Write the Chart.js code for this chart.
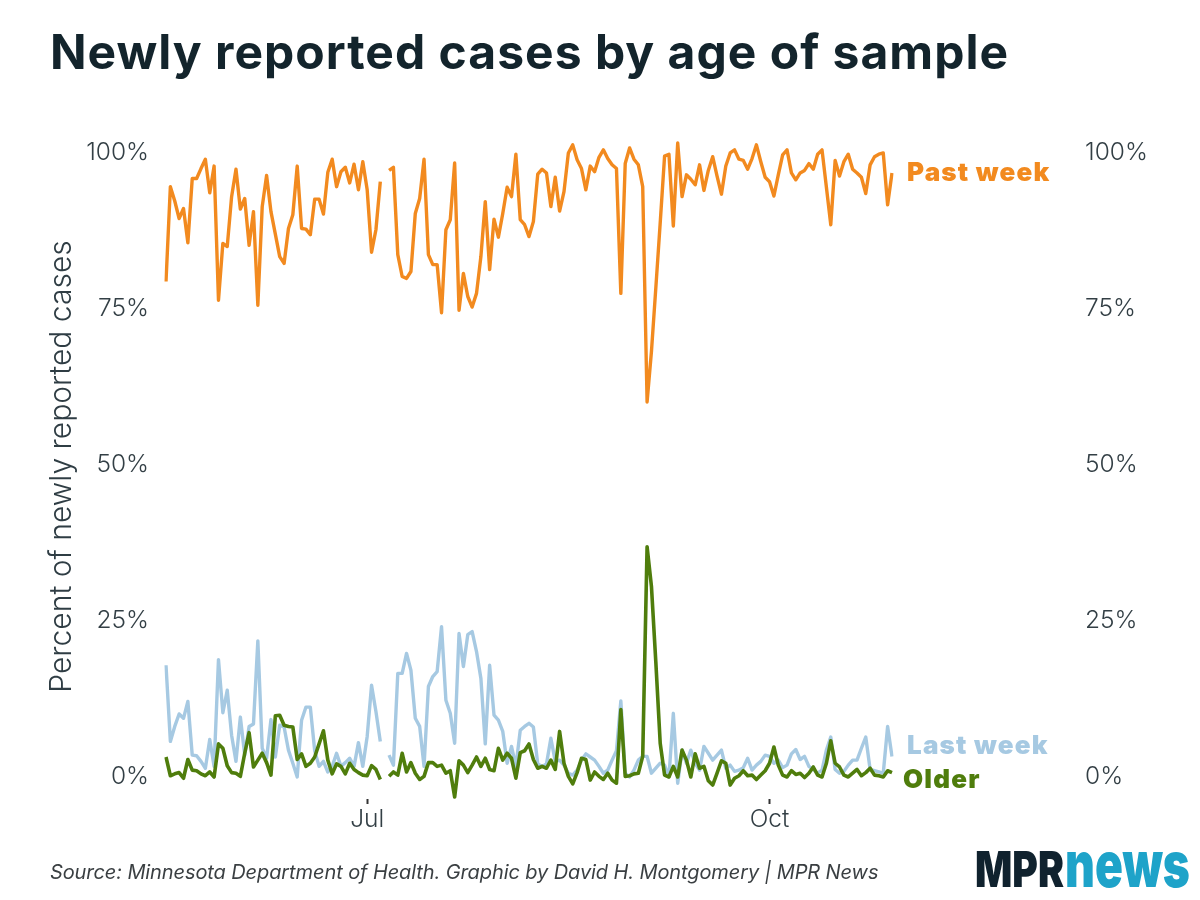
<!DOCTYPE html>
<html>
<head>
<meta charset="utf-8">
<script src="https://cdn.jsdelivr.net/npm/chart.js@4.4.0/dist/chart.umd.min.js"></script>
<style>
  html, body { margin: 0; padding: 0; background: #ffffff; }
  #wrap { position: relative; width: 1200px; height: 900px; overflow: hidden; background: #fff; }
  #chart { position: absolute; left: 0; top: 0; }
  #title { position: absolute; left: 50px; top: 28px; font-family: Inter, "Noto Sans", sans-serif; font-weight: 700;
           font-size: 48px; line-height: 1; color: #13242c; white-space: nowrap; letter-spacing: 1.0px; }
  #source { position: absolute; left: 50px; top: 862px; font-family: Inter, "Noto Sans", sans-serif; font-style: italic;
            font-size: 20px; line-height: 1; color: #3a3f42; white-space: nowrap; letter-spacing: -0.1px; }
  .logo { position: absolute; font-family: Inter, "Noto Sans", sans-serif; font-weight: 900; line-height: 1;
          white-space: nowrap; transform-origin: 0 0; }
  #logoA { left: 975px; top: 844px; font-size: 50px; color: #10222e; transform: scaleX(0.78); }
  #logoB { left: 1065px; top: 832px; font-size: 64px; color: #1ea3c9; transform: scaleX(0.72); }
</style>
</head>
<body>
<div id="wrap">
  <canvas id="chart" width="1200" height="900"></canvas>
  <div id="title">Newly reported cases by age of sample</div>
  <div id="source">Source: Minnesota Department of Health. Graphic by David H. Montgomery | MPR News</div>
  <div class="logo" id="logoA">MPR</div>
  <div class="logo" id="logoB">news</div>
</div>
<script>
// ---------- DATA ----------
const startDate = '2020-05-16';
const dayCount = 167;
const xTickDates = ['2020-07-01', '2020-10-01'];
const xTickLabels = ['Jul', 'Oct'];
const yTickValues = [0, 25, 50, 75, 100];

const pastWeek = [
  79.4, 94.6, 92.3, 89.5, 91.1, 85.6, 95.9, 95.9, 97.5, 99.0,
  93.6, 97.9, 76.4, 85.5, 85.0, 93.0, 97.4, 91.0, 92.7, 85.2,
  90.6, 75.6, 91.4, 96.4, 90.6, 87.0, 83.4, 82.3, 87.9, 90.1,
  97.9, 87.9, 87.8, 86.9, 92.6, 92.6, 90.2, 96.9, 99.0, 94.6,
  97.0, 97.7, 95.2, 98.2, 94.1, 98.6, 94.1, 84.1, 87.7, 95.4,
  null, 97.2, 97.7, 83.7, 80.2, 79.9, 81.0, 90.3, 92.7, 99.0,
  83.7, 82.1, 82.1, 74.4, 87.7, 89.3, 98.4, 74.8, 80.7, 77.0,
  75.3, 77.5, 83.4, 92.2, 81.3, 89.4, 86.5, 90.3, 94.5, 93.0,
  99.8, 89.3, 88.5, 86.6, 89.0, 96.6, 97.4, 96.8, 91.4, 96.1,
  90.7, 93.8, 100.0, 101.3, 98.9, 97.5, 94.1, 97.9, 97.0, 99.3,
  100.5, 99.1, 98.1, 97.5, 77.5, 98.3, 100.8, 99.0, 98.1, 94.6,
  60.1, 68.2, 78.4, 88.8, 99.5, 99.8, 88.3, 101.6, 93.0, 96.5,
  95.8, 94.9, 98.1, 94.0, 97.2, 99.4, 96.3, 93.4, 97.9, 100.0,
  100.5, 99.0, 98.8, 97.4, 99.1, 101.3, 98.6, 96.1, 95.4, 93.1,
  96.5, 99.7, 100.5, 96.8, 95.7, 96.8, 97.2, 98.3, 97.4, 99.8,
  100.5, 94.5, 88.5, 98.8, 96.3, 98.6, 99.8, 97.4, 96.8, 96.1,
  93.5, 98.1, 99.4, 99.8, 100.0, 91.7, 96.8
];

const lastWeek = [
  17.9, 5.7, 8.1, 10.1, 9.4, 12.1, 3.5, 3.4, 2.5, 1.4,
  6.0, 1.7, 18.8, 10.3, 13.9, 6.7, 2.5, 9.6, 3.5, 8.1,
  8.5, 21.8, 4.6, 3.0, 9.2, 3.2, 8.3, 8.0, 4.3, 2.2,
  0.0, 9.1, 11.2, 11.2, 4.2, 1.7, 2.5, 0.8, 1.7, 3.8,
  1.7, 2.3, 3.0, 1.7, 5.5, 1.7, 6.5, 14.7, 10.5, 5.7,
  null, 3.5, 1.9, 16.6, 16.6, 19.8, 17.1, 9.4, 8.1, 1.7,
  14.5, 16.1, 16.9, 24.1, 12.3, 10.2, 5.4, 23.0, 17.7, 22.8,
  23.3, 20.1, 15.8, 5.3, 17.9, 9.9, 9.1, 7.3, 2.2, 4.9,
  1.7, 7.5, 8.1, 8.6, 8.0, 2.1, 1.7, 2.1, 6.2, 2.5,
  2.7, 1.9, 0.6, 0.3, 1.1, 2.7, 3.7, 3.2, 2.7, 1.7,
  0.6, 1.1, 2.7, 4.2, 12.2, 0.6, 0.0, 1.1, 2.7, 3.3,
  3.3, 0.6, 1.4, 2.2, 1.9, 0.0, 10.2, -1.0, 4.3, 2.2,
  4.3, 2.2, 1.1, 4.9, 3.8, 2.7, 3.5, 4.3, 1.4, 1.9,
  0.9, 1.1, 1.5, 3.0, 1.1, 1.9, 2.5, 3.5, 3.3, 2.2,
  2.7, 1.5, 1.9, 3.7, 4.4, 2.8, 3.3, 1.7, 1.2, 0.6,
  1.1, 4.3, 6.4, 1.2, 0.6, 0.9, 1.9, 2.7, 2.7, 4.6,
  6.4, 1.2, 1.0, 0.8, 0.6, 8.1, 3.3
];

const older = [
  3.2, 0.2, 0.5, 0.7, -0.2, 2.8, 1.1, 1.0, 0.5, 0.2,
  0.8, 0.0, 5.3, 4.6, 1.8, 0.7, 0.6, 0.1, 3.8, 7.1,
  1.6, 2.7, 3.8, 2.3, 0.3, 9.8, 9.9, 8.3, 8.1, 8.0,
  2.8, 3.7, 1.7, 2.2, 3.2, 5.3, 7.4, 2.7, 0.5, 2.1,
  1.7, 0.5, 2.2, 1.2, 0.7, 0.3, 0.2, 1.8, 1.2, -0.4,
  null, 0.1, 0.8, 0.3, 3.8, 0.8, 2.3, 0.6, -0.4, 0.1,
  2.3, 2.3, 1.7, 1.9, 0.6, 1.0, -3.2, 2.6, 1.9, 0.7,
  1.9, 3.2, 1.7, 3.0, 1.2, 1.0, 4.6, 2.7, 3.8, 3.0,
  -0.2, 3.9, 4.2, 5.3, 2.8, 1.4, 1.7, 1.4, 2.7, 1.2,
  7.3, 2.2, 0.1, -1.1, 0.7, 3.0, 2.8, -0.5, 0.8, 0.1,
  -0.4, 0.6, -0.5, -1.0, 10.8, 0.1, 0.2, 0.5, 0.6, 3.3,
  36.9, 30.5, 18.4, 5.4, 0.3, 0.0, 1.7, 0.0, 4.3, 2.7,
  0.0, 3.7, 1.4, 1.7, -0.6, -1.3, 0.6, 2.6, 2.2, -1.3,
  -0.2, 0.2, 1.0, 0.2, 0.3, -0.4, 0.3, 1.0, 2.2, 4.8,
  1.9, 0.3, 0.0, 1.0, 0.4, 0.6, -0.1, 0.6, 1.6, 0.3,
  0.0, 2.2, 5.8, 2.2, 1.6, 0.3, 0.0, 0.6, 1.2, 0.2,
  0.7, 1.4, 0.3, 0.2, 0.0, 1.0, 0.7
];

// daily category labels (dates)
const categories = [];
{
  const d0 = new Date(startDate + 'T12:00:00Z');
  for (let i = 0; i < dayCount; i++) {
    const d = new Date(d0.getTime() + i * 86400000);
    categories.push(d.toISOString().slice(0, 10));
  }
}

// ---------- STYLE ----------
const COLORS = { past: '#f28a1f', last: '#a6c9e2', older: '#4f7d0c', text: '#333f45' };
const FONT = 'Inter, "Noto Sans", sans-serif';
const TICK_FONT = { family: FONT, size: 24.5, weight: 300 };

const seriesLabels = [
  { text: 'Past week', data: pastWeek, color: COLORS.past, dx: 15, dy: 0 },
  { text: 'Last week', data: lastWeek, color: COLORS.last, dx: 15, dy: -10 },
  { text: 'Older', data: older, color: COLORS.older, dx: 11, dy: 8 }
];

const endLabelPlugin = {
  id: 'endLabels',
  afterDatasetsDraw(chart) {
    const { ctx, chartArea, scales } = chart;
    ctx.save();
    ctx.font = '900 26px ' + FONT;
    ctx.letterSpacing = '1.2px';
    ctx.textBaseline = 'middle';
    ctx.textAlign = 'left';
    seriesLabels.forEach(s => {
      const last = s.data[s.data.length - 1];
      ctx.fillStyle = s.color;
      ctx.fillText(s.text, chartArea.right + s.dx, scales.y.getPixelForValue(last) + s.dy);
    });
    ctx.restore();
  }
};

const yMin = -3.53, yMax = 103.04;
const setYTicks = axis => { axis.ticks = yTickValues.map(v => ({ value: v })); };
const fitY = w => axis => { axis.width = w; axis.paddingTop = 0; axis.paddingBottom = 0; };

new Chart(document.getElementById('chart'), {
  type: 'line',
  data: {
    labels: categories,
    datasets: [
      { label: 'Past week', data: pastWeek, borderColor: COLORS.past, borderWidth: 3.4 },
      { label: 'Older', data: older, borderColor: COLORS.older, borderWidth: 3.6 },
      { label: 'Last week', data: lastWeek, borderColor: COLORS.last, borderWidth: 3.4 }
    ]
  },
  options: {
    responsive: false,
    animation: false,
    events: [],
    layout: { padding: { top: 134, bottom: 0, left: 0, right: 0 } },
    elements: {
      point: { radius: 0 },
      line: { tension: 0, borderJoinStyle: 'round', borderCapStyle: 'butt', fill: false }
    },
    spanGaps: false,
    plugins: { legend: { display: false }, tooltip: { enabled: false }, title: { display: false } },
    scales: {
      x: {
        type: 'category',
        afterBuildTicks: axis => { axis.ticks = xTickDates.map(d => ({ value: categories.indexOf(d) })); },
        afterFit: axis => { axis.height = 101; axis.paddingLeft = 0; axis.paddingRight = 0; },
        ticks: {
          autoSkip: false, maxRotation: 0, padding: 1,
          font: TICK_FONT, color: COLORS.text,
          callback: v => xTickLabels[xTickDates.indexOf(categories[v])]
        },
        grid: { drawOnChartArea: false, drawTicks: true, tickLength: 5, tickColor: '#333', tickWidth: 2 },
        border: { display: false }
      },
      y: {
        position: 'left', min: yMin, max: yMax,
        afterBuildTicks: setYTicks,
        afterFit: fitY(166),
        ticks: { padding: 17, font: TICK_FONT, color: COLORS.text, callback: v => v + '%' },
        grid: { display: false, drawTicks: false },
        border: { display: false },
        title: { display: true, text: 'Percent of newly reported cases', color: '#2f3d44',
                 font: { family: FONT, size: 30, weight: 300 }, padding: { top: 44, bottom: 0 } }
      },
      y2: {
        position: 'right', min: yMin, max: yMax,
        afterBuildTicks: setYTicks,
        afterFit: fitY(308),
        ticks: { padding: 193, font: TICK_FONT, color: COLORS.text, callback: v => v + '%' },
        grid: { display: false, drawTicks: false },
        border: { display: false }
      }
    }
  },
  plugins: [endLabelPlugin]
});
</script>
</body>
</html>
